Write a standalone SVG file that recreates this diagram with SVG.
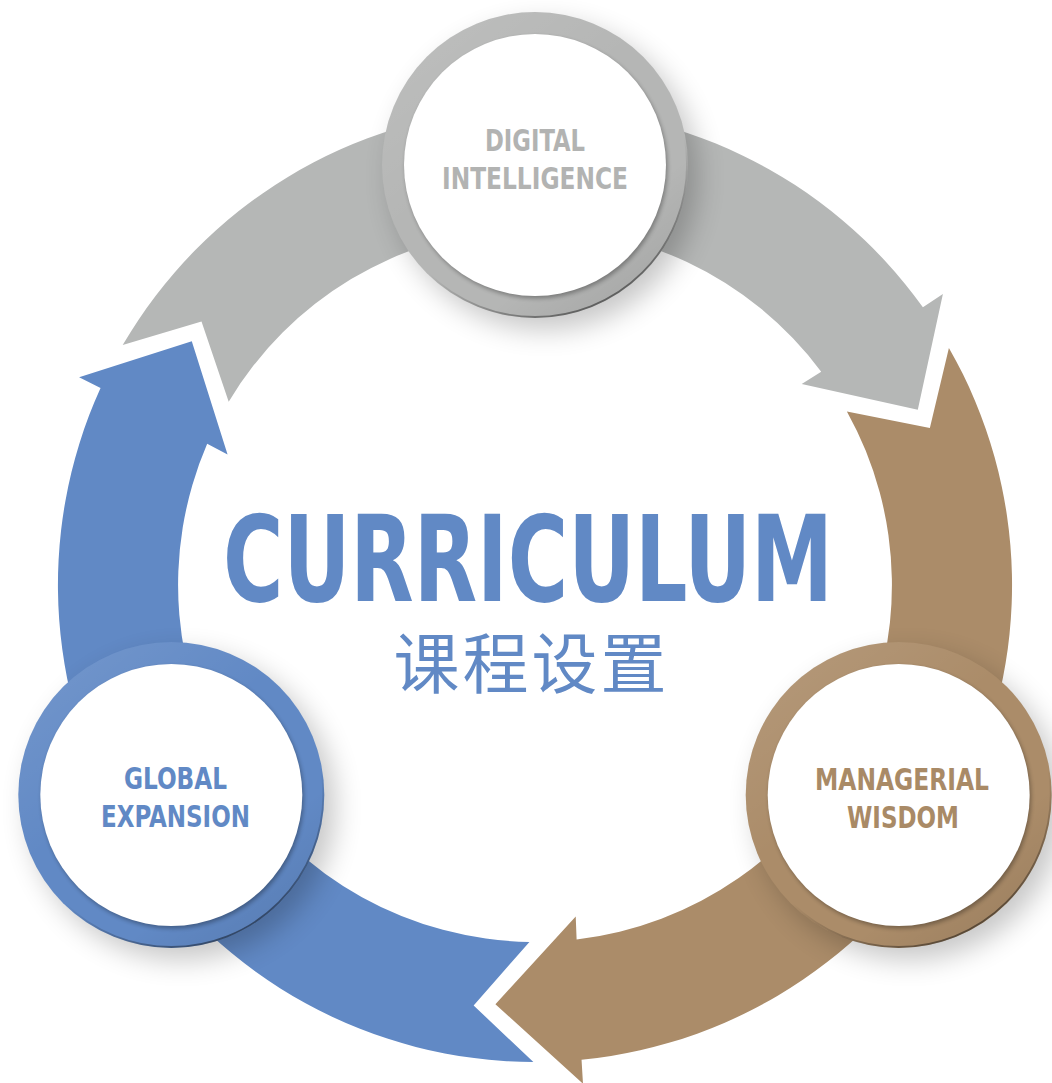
<svg xmlns="http://www.w3.org/2000/svg" xmlns:xlink="http://www.w3.org/1999/xlink" width="1052" height="1083" viewBox="0 0 1052 1083">
  <style>
    .lbl { font-family: "Liberation Sans Narrow", "DejaVu Sans Condensed", "Liberation Sans", sans-serif; font-weight: 700; font-size: 30px; text-anchor: middle; }
    .gray { fill: #b2b3b2; }
    .brown { fill: #a98a66; }
    .blue { fill: #6189c5; }
    .title { font-family: "Liberation Sans Narrow", "DejaVu Sans Condensed", "Liberation Sans", sans-serif; font-weight: 700; font-size: 120px; fill: #6189c5; }
    .cjk { font-family: "Noto Sans CJK SC", "Noto Sans CJK TC", sans-serif; font-weight: 400; font-size: 66px; fill: #6189c5; letter-spacing: 3px; text-anchor: middle; }
    .disc { fill: #ffffff; }
  </style>
  <defs>
    <path id="arrow" d="M 122.7 345.1 A 477 477 0 0 1 922.9 307.3 L 942.9 294.1 L 917.8 409.7 L 801.7 384.0 L 821.2 371.7 A 357 357 0 0 0 228.7 401.7 L 201.5 321.6 Z"/>
    <filter id="dropBlur" x="-40%" y="-40%" width="180%" height="180%">
      <feGaussianBlur stdDeviation="14"/>
    </filter>
    <filter id="innerBlur" x="-10%" y="-10%" width="120%" height="120%">
      <feGaussianBlur stdDeviation="2"/>
    </filter>
    <linearGradient id="hl" x1="0.15" y1="0.05" x2="0.85" y2="0.95">
      <stop offset="0" stop-color="#ffffff" stop-opacity="0.1"/>
      <stop offset="0.4" stop-color="#ffffff" stop-opacity="0"/>
      <stop offset="0.75" stop-color="#000000" stop-opacity="0"/>
      <stop offset="1" stop-color="#000000" stop-opacity="0.08"/>
    </linearGradient>
    <linearGradient id="edge" x1="0.25" y1="0.15" x2="0.7" y2="1">
      <stop offset="0.6" stop-color="#000000" stop-opacity="0"/>
      <stop offset="0.9" stop-color="#000000" stop-opacity="0.35"/>
      <stop offset="1" stop-color="#000000" stop-opacity="0.5"/>
    </linearGradient>
  </defs>

  <rect width="1052" height="1083" fill="#ffffff"/>

  <g id="connectors">
    <use id="arrow-gray" href="#arrow" xlink:href="#arrow" fill="#b5b7b6"/>
    <use id="arrow-brown" href="#arrow" xlink:href="#arrow" fill="#ab8c69" transform="rotate(120 535 585)"/>
    <use id="arrow-blue" href="#arrow" xlink:href="#arrow" fill="#6189c5" transform="rotate(240 535 585)"/>
  </g>

  <g id="center-title">
    <text class="title" x="223" y="601" textLength="610" lengthAdjust="spacingAndGlyphs">CURRICULUM</text>
    <text class="cjk" x="531.5" y="688">课程设置</text>
  </g>

  <g id="node-digital">
    <circle cx="545" cy="177" r="153" fill="#000000" opacity="0.22" filter="url(#dropBlur)"/>
    <circle cx="535" cy="165" r="153" fill="#b5b6b5"/>
    <circle cx="535" cy="165" r="153" fill="url(#hl)"/>
    <circle cx="535" cy="165" r="152" fill="none" stroke="url(#edge)" stroke-width="1.8"/>
    <circle cx="536.5" cy="167.5" r="131" fill="#000000" opacity="0.3" filter="url(#innerBlur)"/>
    <circle class="disc" cx="535" cy="165" r="131"/>
    <text class="lbl gray" x="535" y="151" textLength="100" lengthAdjust="spacingAndGlyphs">DIGITAL</text>
    <text class="lbl gray" x="535" y="189" textLength="186" lengthAdjust="spacingAndGlyphs">INTELLIGENCE</text>
  </g>

  <g id="node-managerial">
    <circle cx="909" cy="807" r="153" fill="#000000" opacity="0.22" filter="url(#dropBlur)"/>
    <circle cx="898.7" cy="795" r="153" fill="#ab8c69"/>
    <circle cx="898.7" cy="795" r="153" fill="url(#hl)"/>
    <circle cx="898.7" cy="795" r="152" fill="none" stroke="url(#edge)" stroke-width="1.8"/>
    <circle cx="900.2" cy="797.5" r="131" fill="#000000" opacity="0.3" filter="url(#innerBlur)"/>
    <circle class="disc" cx="898.7" cy="795" r="131"/>
    <text class="lbl brown" x="902" y="790" textLength="174" lengthAdjust="spacingAndGlyphs">MANAGERIAL</text>
    <text class="lbl brown" x="903" y="828" textLength="112" lengthAdjust="spacingAndGlyphs">WISDOM</text>
  </g>

  <g id="node-global">
    <circle cx="182" cy="807" r="153" fill="#000000" opacity="0.22" filter="url(#dropBlur)"/>
    <circle cx="171.3" cy="795" r="153" fill="#6189c5"/>
    <circle cx="171.3" cy="795" r="153" fill="url(#hl)"/>
    <circle cx="171.3" cy="795" r="152" fill="none" stroke="url(#edge)" stroke-width="1.8"/>
    <circle cx="172.8" cy="797.5" r="131" fill="#000000" opacity="0.3" filter="url(#innerBlur)"/>
    <circle class="disc" cx="171.3" cy="795" r="131"/>
    <text class="lbl blue" x="175.5" y="789" textLength="103" lengthAdjust="spacingAndGlyphs">GLOBAL</text>
    <text class="lbl blue" x="175.5" y="827" textLength="149" lengthAdjust="spacingAndGlyphs">EXPANSION</text>
  </g>
</svg>
